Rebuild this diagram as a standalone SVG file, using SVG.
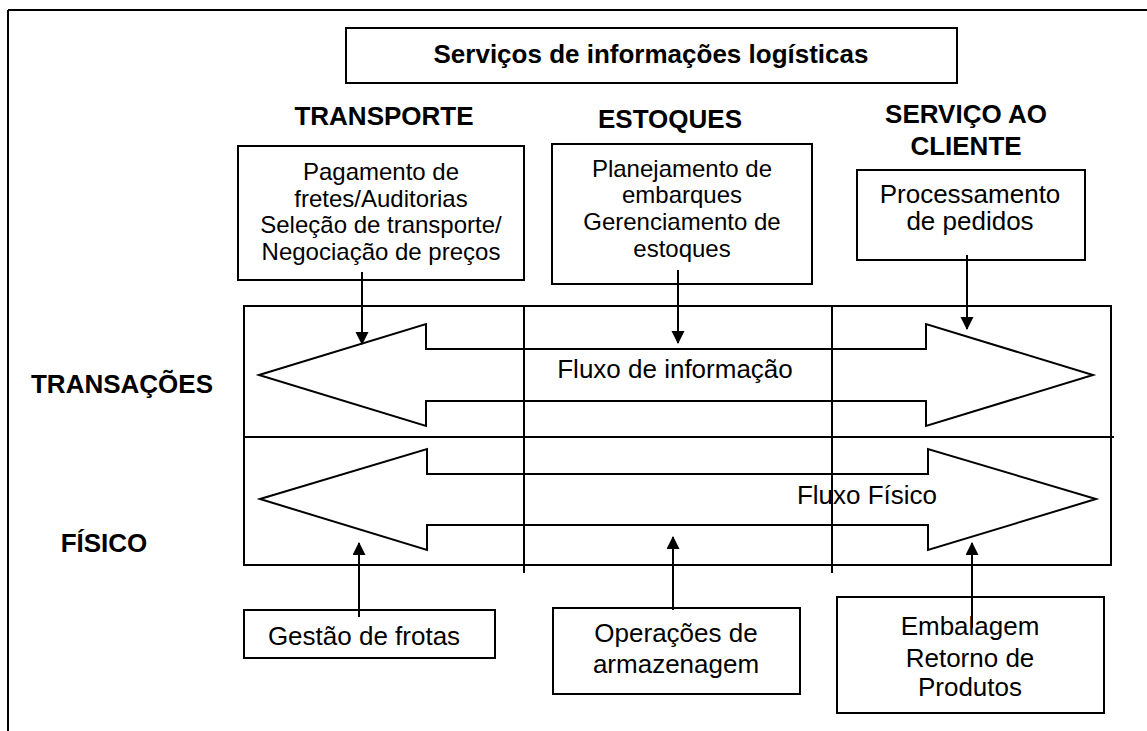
<svg xmlns="http://www.w3.org/2000/svg" width="1147" height="731" viewBox="0 0 1147 731">
<defs>
<style>
.b{fill:#fff;stroke:#000;stroke-width:2}
.ln{stroke:#000;stroke-width:2;fill:none}
.t{font-family:"Liberation Sans",Arial,sans-serif;fill:#000;text-anchor:middle}
.bold{font-weight:bold;font-size:26px}
.r24{font-size:24px}
.r26{font-size:26px}
.arrow{fill:none;stroke:#000;stroke-width:2;stroke-linejoin:miter}
</style>
<marker id="ah" markerUnits="userSpaceOnUse" markerWidth="14" markerHeight="14" refX="12" refY="6.5" orient="auto">
<path d="M0,0 L13,6.5 L0,13 Z" fill="#000"/>
</marker>
</defs>
<rect width="1147" height="731" fill="#fff"/>
<g id="frame">
<line x1="8" y1="10" x2="1147" y2="10" class="ln"/>
<line x1="8" y1="10" x2="8" y2="731" class="ln"/>
</g>
<g id="title">
<rect x="346" y="28" width="611" height="55" class="b"/>
<text x="651" y="63" class="t bold">Serviços de informações logísticas</text>
</g>
<g id="headers">
<text x="384" y="125" class="t bold">TRANSPORTE</text>
<text x="670" y="128" class="t bold">ESTOQUES</text>
<text x="966" y="123" class="t bold">SERVIÇO AO</text>
<text x="966" y="155" class="t bold">CLIENTE</text>
<text x="122" y="393" class="t bold">TRANSAÇÕES</text>
<text x="104" y="552" class="t bold">FÍSICO</text>
</g>
<g id="flow-frame">
<rect x="244" y="306" width="867" height="259" fill="none" stroke="#000" stroke-width="2"/>
<line x1="244" y1="437" x2="1114" y2="437" class="ln"/>
<line x1="524" y1="306" x2="524" y2="573" class="ln"/>
<line x1="832" y1="306" x2="832" y2="573" class="ln"/>
</g>
<g id="info-flow">
<polygon class="arrow" points="259,375 426,324 426,349 926,349 926,324 1093,375 926,426 926,401 426,401 426,426"/>
<text x="675" y="378" class="t r26">Fluxo de informação</text>
</g>
<g id="physical-flow">
<polygon class="arrow" points="260,499 427,449 427,474 928,474 928,449 1096,499 928,550 928,525 427,525 427,550"/>
<text x="867" y="504" class="t r26">Fluxo Físico</text>
</g>
<g id="transporte">
<rect x="238" y="146" width="286" height="134" class="b"/>
<text class="t r24"><tspan x="381" y="180">Pagamento de</tspan><tspan x="381" y="207">fretes/Auditorias</tspan><tspan x="381" y="233">Seleção de transporte/</tspan><tspan x="381" y="260">Negociação de preços</tspan></text>
</g>
<g id="estoques">
<rect x="552" y="144" width="260" height="140" class="b"/>
<text class="t r24"><tspan x="682" y="177">Planejamento de</tspan><tspan x="682" y="203">embarques</tspan><tspan x="682" y="230">Gerenciamento de</tspan><tspan x="682" y="257">estoques</tspan></text>
</g>
<g id="servico">
<rect x="857" y="170" width="228" height="90" class="b"/>
<text class="t r26"><tspan x="970" y="203">Processamento</tspan><tspan x="970" y="230">de pedidos</tspan></text>
</g>
<g id="gestao">
<rect x="244" y="610" width="251" height="48" class="b"/>
<text x="364" y="645" class="t r26">Gestão de frotas</text>
</g>
<g id="operacoes">
<rect x="553" y="608" width="247" height="86" class="b"/>
<text class="t r26"><tspan x="676" y="642">Operações de</tspan><tspan x="676" y="673">armazenagem</tspan></text>
</g>
<g id="embalagem">
<rect x="837" y="597" width="267" height="116" class="b"/>
<text class="t r26"><tspan x="970" y="635">Embalagem</tspan><tspan x="970" y="667">Retorno de</tspan><tspan x="970" y="696">Produtos</tspan></text>
</g>
<g id="connectors">
<line x1="362" y1="272" x2="362" y2="344" class="ln" marker-end="url(#ah)"/>
<line x1="678" y1="270" x2="678" y2="343" class="ln" marker-end="url(#ah)"/>
<line x1="967" y1="255" x2="967" y2="329" class="ln" marker-end="url(#ah)"/>
<line x1="359" y1="617" x2="359" y2="543" class="ln" marker-end="url(#ah)"/>
<line x1="673" y1="610" x2="673" y2="537" class="ln" marker-end="url(#ah)"/>
<line x1="972" y1="628" x2="972" y2="543" class="ln" marker-end="url(#ah)"/>
</g>
</svg>
